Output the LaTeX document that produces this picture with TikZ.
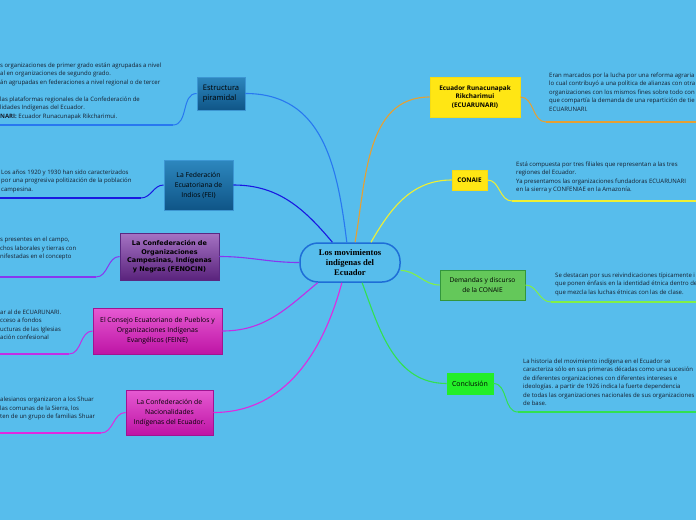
\documentclass[tikz,border=0pt]{standalone}
\usepackage{fontspec}
\setmainfont{Open Sans}
\newfontfamily\verd{DejaVu Sans}
\newfontfamily\serifb{Liberation Serif}
\definecolor{bg}{RGB}{87,189,236}
\definecolor{txt}{RGB}{22,30,45}
\definecolor{cEst}{RGB}{40,120,240}
\definecolor{cFei}{RGB}{25,25,225}
\definecolor{cFen}{RGB}{135,55,240}
\definecolor{cFeine}{RGB}{195,45,230}
\definecolor{cNac}{RGB}{225,40,225}
\definecolor{cEcu}{RGB}{230,160,50}
\definecolor{cCon}{RGB}{240,240,50}
\definecolor{cDem}{RGB}{130,240,70}
\definecolor{cConc}{RGB}{50,225,80}
\definecolor{cCentre}{RGB}{30,110,215}
\definecolor{blueT}{RGB}{45,135,190}
\definecolor{blueB}{RGB}{15,85,135}
\definecolor{blueD}{RGB}{60,150,210}
\definecolor{purT}{RGB}{165,115,195}
\definecolor{purB}{RGB}{90,35,125}
\definecolor{purD}{RGB}{90,40,130}
\definecolor{magT}{RGB}{230,90,210}
\definecolor{magB}{RGB}{190,20,165}
\definecolor{magD}{RGB}{160,20,145}
\definecolor{yelF}{RGB}{255,230,20}
\definecolor{yelD}{RGB}{245,220,20}
\definecolor{demF}{RGB}{100,200,90}
\definecolor{demD}{RGB}{50,150,60}
\definecolor{concF}{RGB}{35,238,40}
\tikzset{
  box/.style={draw, line width=0.8pt, minimum width=#1, inner sep=1pt, align=center, font=\fontsize{6.6}{9}\selectfont, text=black},
  bluebox/.style={box=#1, top color=blueT, bottom color=blueB, draw=blueD},
  purplebox/.style={box=#1, top color=purT, bottom color=purB, draw=purD},
  magbox/.style={box=#1, top color=magT, bottom color=magB, draw=magD},
  yelbox/.style={box=#1, fill=yelF, draw=yelD, font=\bfseries\fontsize{6.4}{8.8}\selectfont},
  body/.style={anchor=north west, inner sep=0pt, align=left, text=txt, font=\fontsize{6}{8.5}\selectfont},
  conn/.style={line width=1.1pt},
  sub/.style={line width=1pt},
  uline/.style={line width=1.8pt},
}
\begin{document}
\begin{tikzpicture}[x=1pt,y=-1pt]
\fill[bg] (0,0) rectangle (696,520);
\useasboundingbox (0,0) rectangle (696,520);

% centre
\node[draw=cCentre, line width=1.5pt, fill=bg, rounded corners=18pt, minimum width=100pt, minimum height=39pt, align=center, inner sep=0pt, font=\serifb\bfseries\fontsize{8.6}{9.6}\selectfont] (c) at (350,262.5) {Los movimientos\\indígenas del\\Ecuador};

% left boxes
\node[bluebox=48pt, minimum height=33pt, align=left, font=\fontsize{7.6}{10}\selectfont] (est) at (221,93.5) {Estructura\\piramidal};
\node[bluebox=69pt, minimum height=50pt, font=\fontsize{6.8}{10}\selectfont] (fei) at (198.5,185) {La Federación\\Ecuatoriana de\\Indios (FEI)};
\node[purplebox=99pt, minimum height=47pt, font=\verd\bfseries\fontsize{6.5}{8.8}\selectfont] (fen) at (169.5,256.5) {La Confederación de\\Organizaciones\\Campesinas, Indígenas\\y Negras (FENOCIN)};
\node[magbox=129pt, minimum height=46pt, font=\fontsize{6.8}{10}\selectfont] (feine) at (157.5,331) {El Consejo Ecuatoriano de Pueblos y\\Organizaciones Indígenas\\Evangélicos (FEINE)};
\node[magbox=87pt, minimum height=45pt, font=\fontsize{6.8}{10}\selectfont] (nac) at (169.5,412.5) {La Confederación de\\Nacionalidades\\Indígenas del Ecuador.};

% right boxes
\node[yelbox=90pt, minimum height=40pt] (ecu) at (475,97) {Ecuador Runacunapak\\Rikcharimui\\(ECUARUNARI)};
\node[yelbox=35pt, minimum height=20pt] (con) at (469.5,180) {CONAIE};
\node[box=85pt, minimum height=30pt, fill=demF, draw=demD, font=\fontsize{6.6}{9.2}\selectfont] (dem) at (482.5,285) {Demandas y discurso\\de la CONAIE};
\node[box=46pt, minimum height=21pt, fill=concF, draw=concF, font=\fontsize{7}{9}\selectfont] (conc) at (470,383.5) {Conclusión};

% main connectors
\draw[conn, cEst] (c.99) to[out=97,in=0,looseness=1.1] (est.east);
\draw[conn, cFei] (c.131) to[out=130,in=0] (fei.east);
\draw[conn, cFen] (c.west) to[out=180,in=0] (fen.east);
\draw[conn, cFeine] (c.212) to[out=220,in=0] (feine.east);
\draw[conn, cNac] (c.248) to[out=255,in=0] (nac.east);
\draw[conn, cEcu] (c.76) to[out=80,in=180] (ecu.west);
\draw[conn, cCon] (c.44) to[out=60,in=180] (con.west);
\draw[conn, cDem] (c.351.5) to[out=0,in=180] (dem.west);
\draw[conn, cConc] (c.301.6) to[out=290,in=180] (conc.west);

% underline coordinates
\coordinate (e1) at (173,125); \coordinate (e2) at (0,125);
\coordinate (f1) at (141,198); \coordinate (f2) at (0,198);
\coordinate (g1) at (96,277); \coordinate (g2) at (0,277);
\coordinate (h1) at (69,354); \coordinate (h2) at (0,354);
\coordinate (i1) at (101,433); \coordinate (i2) at (0,433);
\coordinate (j1) at (546,122); \coordinate (j2) at (696,122);
\coordinate (k1) at (512,201); \coordinate (k2) at (696,201);
\coordinate (l1) at (551,302); \coordinate (l2) at (696,302);
\coordinate (m1) at (518,412); \coordinate (m2) at (696,412);

\draw[sub, cEst] (est.west) to[out=180,in=0] (e1);
\draw[uline, cEst] (e1) -- (e2);
\draw[sub, cFei] (fei.west) to[out=180,in=0] (f1);
\draw[uline, cFei] (f1) -- (f2);
\draw[sub, cFen] (fen.west) to[out=180,in=0] (g1);
\draw[uline, cFen] (g1) -- (g2);
\draw[sub, cFeine] (feine.west) to[out=180,in=0] (h1);
\draw[uline, cFeine] (h1) -- (h2);
\draw[sub, cNac] (nac.west) to[out=180,in=0] (i1);
\draw[uline, cNac] (i1) -- (i2);
\draw[sub, cEcu] (ecu.east) to[out=0,in=180] (j1);
\draw[uline, cEcu] (j1) -- (j2);
\draw[sub, cCon] (con.east) to[out=0,in=180] (k1);
\draw[uline, cCon] (k1) -- (k2);
\draw[sub, cDem] (dem.east) to[out=0,in=180] (l1);
\draw[uline, cDem] (l1) -- (l2);
\draw[sub, cConc] (conc.east) to[out=0,in=180] (m1);
\draw[uline, cConc] (m1) -- (m2);

% body texts
\node[body] (t1) at (0,62.5) {s organizaciones de primer grado están agrupadas a nivel\\al en organizaciones de segundo grado.\\án agrupadas en federaciones a nivel regional o de tercer\\ \\ las plataformas regionales de la Confederación de\\lidades Indígenas del Ecuador.\\\textbf{NARI:} Ecuador Runacunapak Rikcharimui.};
\node[body] (t2) at (1,169.5) {Los años 1920 y 1930 han sido caracterizados\\por una progresiva politización de la población\\campesina.};
\node[body] (t3) at (0,237) {s presentes en el campo,\\chos laborales y tierras con\\nifestadas en el concepto};
\node[body] (t4) at (0,309.5) {ar al de ECUARUNARI.\\cceso a fondos\\ucturas de las Iglesias\\ación confesional};
\node[body] (t5) at (0,397) {alesianos organizaron a los Shuar\\las comunas de la Sierra, los\\ten de un grupo de familias Shuar};
\node[body] (t6) at (549,72.5) {Eran marcados por la lucha por una reforma agraria\\lo cual contribuyó a una política de alianzas con otra\\organizaciones con los mismos fines sobre todo con\\que compartía la demanda de una repartición de tie\\ECUARUNARI.};
\node[body] (t7) at (516,161.5) {Está compuesta por tres filiales que representan a las tres\\regiones del Ecuador.\\Ya presentamos las organizaciones fundadoras ECUARUNARI\\en la sierra y CONFENIAE en la Amazonía.};
\node[body] (t8) at (555,272.5) {Se destacan por sus reivindicaciones típicamente i\\que ponen énfasis en la identidad étnica dentro de\\que mezcla las luchas étnicas con las de clase.};
\node[body] (t9) at (523,358.5) {La historia del movimiento indígena en el Ecuador se\\caracteriza sólo en sus primeras décadas como una sucesión\\de diferentes organizaciones con diferentes intereses e\\ideologías. a partir de 1926 indica la fuerte dependencia\\de todas las organizaciones nacionales de sus organizaciones\\de base.};
\end{tikzpicture}
\end{document}
